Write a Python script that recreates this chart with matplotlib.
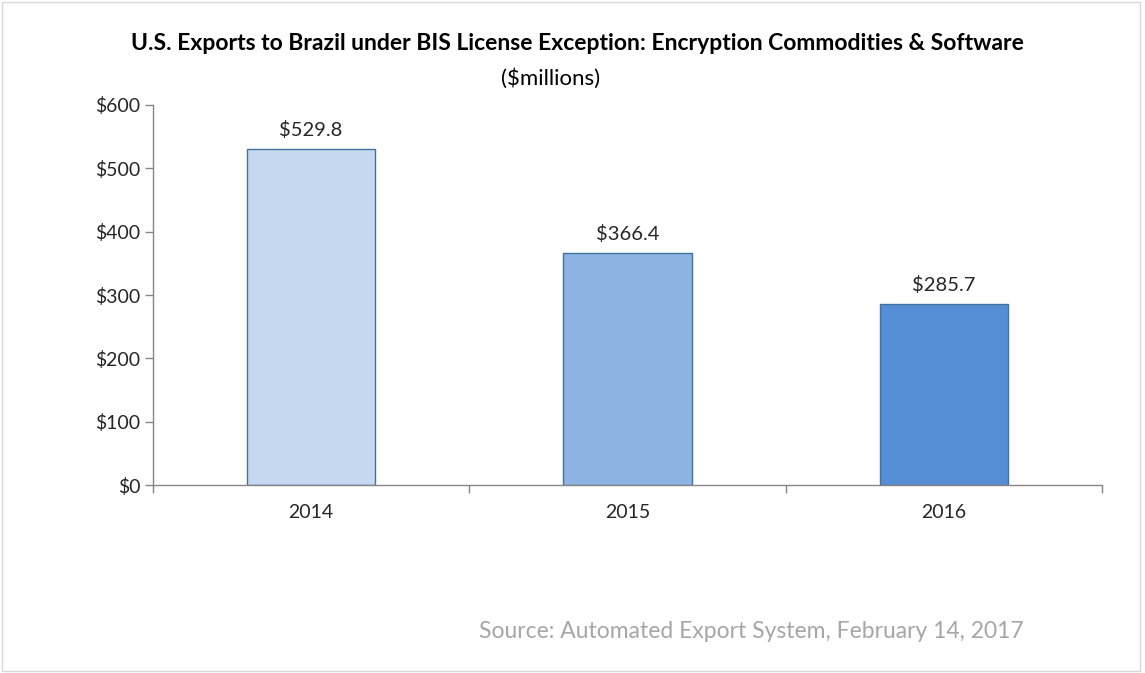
import matplotlib.pyplot as plt
from matplotlib.patches import Rectangle
import numpy as np

years = ['2014', '2015', '2016']
exports = [529.8, 366.4, 285.7]
bar_colors = ['#C6D9F1', '#8EB4E3', '#558ED5']
yticks = [0, 100, 200, 300, 400, 500, 600]

plt.rcParams['font.family'] = ['Lato', 'DejaVu Sans']

fig = plt.figure(figsize=(11.45, 6.73), dpi=100)
ax = fig.add_axes([0.1336, 0.2793, 0.8288, 0.5647])

x = np.arange(len(years))
bars = ax.bar(x, exports, width=0.405, color=bar_colors, edgecolor='#41719C', linewidth=1.0, zorder=2)

for b, v in zip(bars, exports):
    ax.text(b.get_x() + b.get_width()/2, v + 16, f'${v:.1f}',
            ha='center', va='bottom', fontsize=14.5, color='#262626')

ax.set_xlim(-0.5, 2.5)
ax.set_ylim(0, 600)
ax.set_yticks(yticks)
ax.set_yticklabels([f'${t}' for t in yticks], fontsize=14, color='#262626')
ax.set_xticks(x)
ax.set_xticklabels(years, fontsize=14, color='#262626')
ax.tick_params(axis='x', length=0, pad=14)
ax.set_xticks([-0.5, 0.5, 1.5, 2.5], minor=True)
ax.tick_params(axis='x', which='minor', length=6, color='#868686', width=1)
ax.tick_params(axis='y', length=6, color='#868686', width=1, pad=3)

for s in ['top', 'right']:
    ax.spines[s].set_visible(False)
for s in ['left', 'bottom']:
    ax.spines[s].set_color('#868686')
    ax.spines[s].set_linewidth(1)

fig.text(0.504, 0.936, 'U.S. Exports to Brazil under BIS License Exception: Encryption Commodities & Software',
         ha='center', va='center', fontsize=16.5, fontweight='bold', color='#000000')
fig.text(0.481, 0.884, '($millions)', ha='center', va='center', fontsize=16, color='#000000')
fig.text(0.656, 0.061, 'Source: Automated Export System, February 14, 2017',
         ha='center', va='center', fontsize=16.5, color='#A6A6A6')

fig.patches.append(Rectangle((0.002, 0.003), 0.994, 0.994, transform=fig.transFigure,
                             fill=False, edgecolor='#D9D9D9', linewidth=1))

plt.savefig('out.png', dpi=100)
